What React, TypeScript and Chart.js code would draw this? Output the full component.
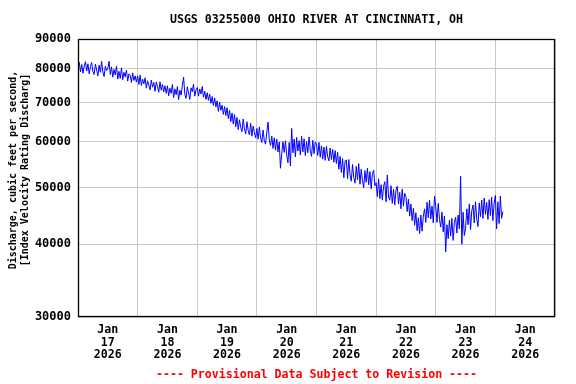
import React, { useEffect, useRef } from "react";
import { Chart, registerables } from "chart.js";

Chart.register(...registerables);

const chartTitle = "USGS 03255000 OHIO RIVER AT CINCINNATI, OH";
const yTitleLines = ["Discharge, cubic feet per second,", "[Index Velocity Rating Discharg]"];
const footerText = "---- Provisional Data Subject to Revision ----";

// tick values
const yTicks = [30000, 40000, 50000, 60000, 70000, 80000, 90000];
const dayLabels = ["17", "18", "19", "20", "21", "22", "23", "24"];
const monthLabel = "Jan";
const yearLabel = "2026";

// discharge in thousand cfs, every 30 minutes from Jan 17 00:00
const discharge = [
  80.2, 82.1, 79.0, 81.4, 78.6, 80.9, 82.3, 79.3, 81.6, 78.4, 80.7, 82.0, 79.1, 78.2, 81.5, 79.6, 77.8, 81.2, 78.9, 82.4, 79.0, 77.6, 80.8, 79.4,
  80.1, 82.4, 78.2, 80.6, 77.4, 79.8, 78.1, 80.9, 76.8, 79.2, 77.0, 80.3, 76.6, 78.9, 77.5, 79.6, 76.2, 78.4, 77.9, 75.8, 78.7, 76.4, 77.8, 75.9,
  77.8, 75.2, 78.0, 74.9, 76.8, 75.4, 77.2, 74.1, 76.3, 75.0, 73.6, 76.5, 74.4, 75.8, 73.2, 75.9, 74.6, 72.9, 76.0, 73.5, 75.2, 73.0, 74.8, 72.6,
  74.8, 71.9, 74.1, 72.6, 75.2, 71.4, 73.9, 72.2, 74.6, 70.8, 73.5, 72.1, 74.9, 77.4, 72.3, 71.2, 74.5, 72.7, 70.9, 74.2, 73.1, 75.3, 71.8, 73.6,
  74.3, 71.8, 73.9, 72.4, 74.6, 71.5, 73.2, 70.9, 72.8, 70.6, 72.4, 69.8, 71.7, 69.2, 71.3, 68.8, 70.5, 67.6, 70.1, 67.9, 69.3, 66.8, 68.9, 66.5,
  68.6, 65.7, 67.9, 64.9, 67.2, 64.3, 66.8, 63.6, 66.0, 62.9, 65.4, 63.5, 62.4, 65.6, 63.1, 61.8, 64.9, 62.7, 61.6, 64.5, 61.3, 63.8, 62.2, 60.9,
  63.2, 60.6, 63.6, 60.9, 59.8, 62.8, 60.2, 59.4, 62.3, 64.8, 60.4, 59.1, 61.3, 58.4, 60.9, 58.0, 60.6, 57.6, 59.9, 54.0, 57.1, 60.0, 57.5, 60.2,
  56.9, 55.2, 59.8, 54.5, 63.2, 57.4, 60.6, 56.5, 61.0, 57.8, 60.2, 56.9, 61.3, 57.6, 60.7, 56.8, 60.0, 57.4, 61.1, 57.9, 56.6, 60.3, 57.2, 59.9,
  59.4, 56.8, 59.8, 56.4, 59.0, 56.0, 58.7, 55.7, 58.9, 56.5, 55.6, 58.5, 55.9, 58.2, 55.3, 57.9, 55.0, 57.5, 53.8, 56.6, 53.1, 56.1, 52.0, 55.6,
  55.8, 51.8, 55.9, 52.6, 51.3, 54.8, 52.1, 50.9, 54.4, 51.6, 55.0, 50.7, 53.8, 51.4, 50.0, 53.5, 51.1, 54.0, 50.6, 53.3, 49.8, 52.7, 53.6, 50.4,
  51.0, 48.3, 51.8, 47.9, 50.6, 47.6, 50.3, 51.2, 47.3, 52.6, 48.2, 47.6, 50.4, 47.0, 49.7, 46.7, 49.5, 50.3, 46.9, 49.1, 46.0, 49.7, 46.5, 48.9,
  48.3, 45.5, 47.8, 44.7, 46.9, 43.9, 46.1, 43.1, 45.3, 42.2, 44.4, 41.7, 44.9, 42.1, 44.7, 46.0, 43.6, 47.2, 44.4, 47.6, 44.2, 46.5, 43.5, 48.4,
  46.4, 43.6, 47.0, 44.1, 42.8, 45.4, 42.0, 44.7, 38.8, 43.2, 40.9, 44.0, 41.3, 44.3, 40.6, 43.6, 44.5, 41.8, 44.9, 42.5, 52.3, 40.0, 45.4, 41.4,
  42.6, 46.0, 43.2, 46.9, 42.4, 45.6, 46.7, 43.5, 47.3, 44.2, 42.9, 47.1, 44.6, 47.6, 44.3, 48.0, 45.0, 47.2, 44.1, 47.7, 44.8, 48.2, 43.9, 47.0,
  48.5, 42.5, 47.3, 43.4, 48.4, 44.3, 45.5,
];
const stepHours = 0.5;
const totalHours = 192;

const FONT = "'DejaVu Sans Mono', monospace";

const textPlugin = {
  id: "usgsText",
  afterDraw(chart: any) {
    const { ctx, chartArea } = chart;
    const { left, right, top, bottom } = chartArea;
    ctx.save();
    // frame
    ctx.strokeStyle = "#000";
    ctx.lineWidth = 1.3;
    ctx.strokeRect(left + 0.5, top + 0.5, right - left - 1, bottom - top - 1);
    ctx.fillStyle = "#000";
    ctx.textAlign = "center";
    ctx.textBaseline = "middle";
    ctx.font = `bold 11.6px ${FONT}`;
    ctx.fillText(chartTitle, (left + right) / 2, 20);
    ctx.fillStyle = "#ff0000";
    ctx.fillText(footerText, (left + right) / 2, 375);
    // y title
    ctx.fillStyle = "#000";
    ctx.font = `bold 10px ${FONT}`;
    ctx.translate(0, 170);
    ctx.rotate(-Math.PI / 2);
    ctx.fillText(yTitleLines[0], 0, 13);
    ctx.fillText(yTitleLines[1], 0, 25);
    ctx.restore();
  },
};

export default function App() {
  const ref = useRef<HTMLCanvasElement>(null);
  useEffect(() => {
    if (!ref.current) return;
    const points = discharge.map((v, i) => ({ x: i * stepHours, y: v * 1000 }));
    const chart = new Chart(ref.current, {
      type: "line",
      data: {
        datasets: [
          {
            data: points,
            borderColor: "#0000ff",
            borderWidth: 1,
            pointRadius: 0,
            tension: 0,
          },
        ],
      },
      options: {
        responsive: false,
        animation: false,
        events: [],
        layout: { padding: { top: 39, right: 21, left: 0, bottom: 0 } },
        plugins: { legend: { display: false }, title: { display: false }, tooltip: { enabled: false } },
        scales: {
          x: {
            type: "linear",
            min: 0,
            max: totalHours,
            afterFit: (s: any) => {
              s.height = 67;
            },
            afterBuildTicks: (s: any) => {
              const t = [];
              for (let h = 0; h <= totalHours; h += 12) t.push({ value: h });
              s.ticks = t;
            },
            grid: {
              drawTicks: false,
              color: (c: any) => (c.tick && c.tick.value % 24 === 0 ? "#c8c8c8" : "rgba(0,0,0,0)"),
              lineWidth: 1,
            },
            border: { display: false },
            ticks: {
              autoSkip: false,
              maxRotation: 0,
              padding: 6,
              color: "#000",
              font: { family: FONT, size: 11.6, weight: "bold", lineHeight: 1.12 },
              callback: (v: any) => {
                const n = Number(v);
                if (n % 24 !== 12) return "";
                const d = (n - 12) / 24;
                return [monthLabel, dayLabels[d], yearLabel];
              },
            },
          },
          y: {
            type: "logarithmic",
            min: 30000,
            max: 90000,
            afterFit: (s: any) => {
              s.width = 78;
            },
            afterBuildTicks: (s: any) => {
              s.ticks = yTicks.map((v) => ({ value: v }));
            },
            grid: { drawTicks: false, color: "#c8c8c8", lineWidth: 1 },
            border: { display: false },
            ticks: {
              padding: 7,
              color: "#000",
              font: { family: FONT, size: 12, weight: "bold" },
              callback: (v: any) => String(v),
            },
          },
        },
      },
      plugins: [textPlugin],
    } as any);
    return () => chart.destroy();
  }, []);
  return (
    <div style={{ position: "absolute", left: 0, top: 0, width: 576, height: 384, background: "#fff" }}>
      <canvas ref={ref} width={576} height={384} style={{ display: "block" }} />
    </div>
  );
}
